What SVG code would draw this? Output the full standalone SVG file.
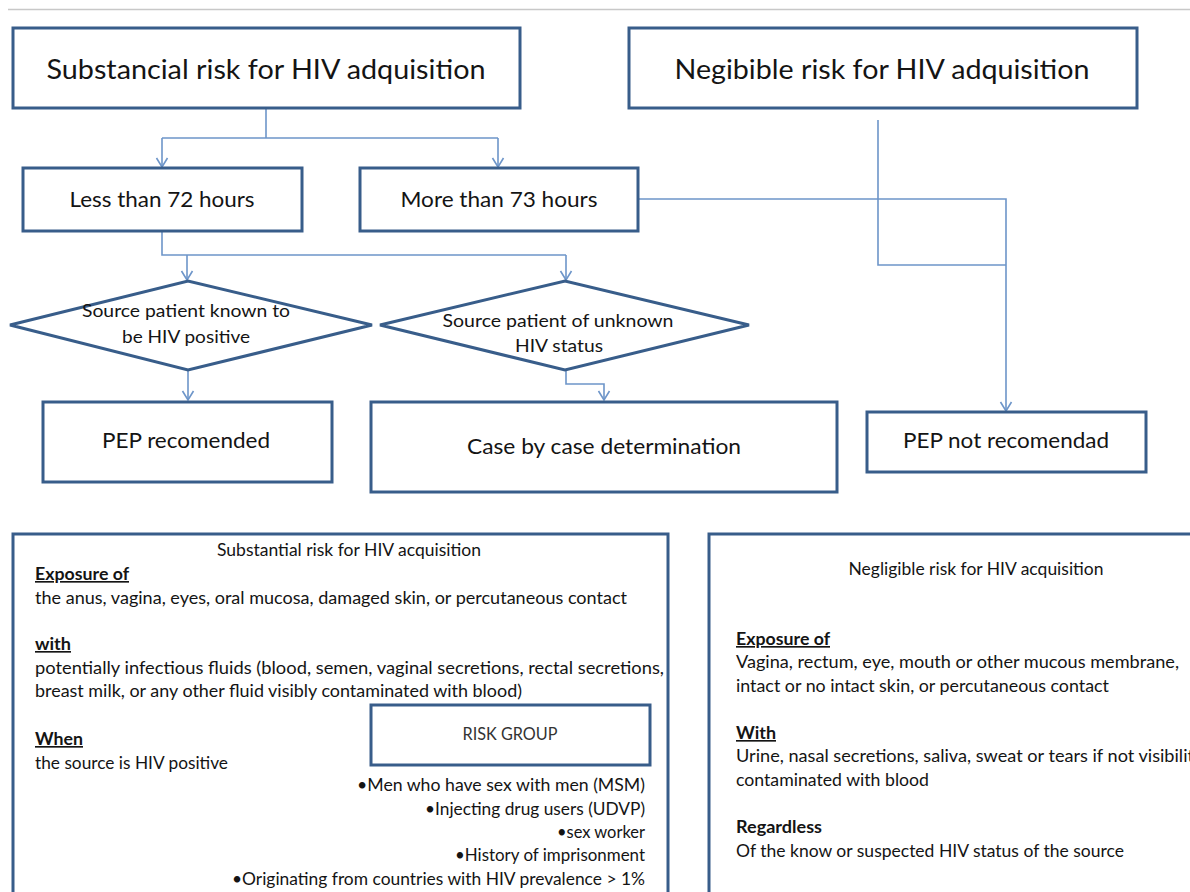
<svg xmlns="http://www.w3.org/2000/svg" width="1190" height="892" viewBox="0 0 1190 892">
<defs>
<style>
.box{fill:#fff;stroke:#385d8a;stroke-width:3}
.con{fill:none;stroke:#6d95c9;stroke-width:1.6}
text{font-family:Lato,"Liberation Sans",sans-serif;fill:#141414}
.t1{font-size:26px;text-anchor:middle}
.t2{font-size:21px;text-anchor:middle}
.t3{font-size:18px;text-anchor:middle}
.s{font-size:16.5px}
.h{font-size:16.5px;font-weight:bold;text-decoration:underline}
.r{font-size:16.5px;text-anchor:end}
</style>
<marker id="arr" markerWidth="14" markerHeight="14" refX="10" refY="7" orient="auto" markerUnits="userSpaceOnUse">
<path d="M1,1.5 L10,7 L1,12.5" fill="none" stroke="#6d95c9" stroke-width="1.6"/>
</marker>
</defs>
<rect width="1190" height="892" fill="#fff"/>
<line x1="8" y1="9.5" x2="1190" y2="9.5" stroke="#c8c8c8" stroke-width="1.5"/>

<g id="connectors">
<path class="con" d="M266,108 V138"/>
<path class="con" d="M162,138 H498"/>
<path class="con" d="M162,138 V167" marker-end="url(#arr)"/>
<path class="con" d="M498,138 V167" marker-end="url(#arr)"/>
<path class="con" d="M162,231 V255 H566"/>
<path class="con" d="M187,255 V280" marker-end="url(#arr)"/>
<path class="con" d="M566,255 V280" marker-end="url(#arr)"/>
<path class="con" d="M188,370 V400" marker-end="url(#arr)"/>
<path class="con" d="M566,370 V384 H604 V400" marker-end="url(#arr)"/>
<path class="con" d="M638,199 H1006 V411" marker-end="url(#arr)"/>
<path class="con" d="M878,120 V265 H1006"/>
</g>

<g id="substancial">
<rect class="box" x="13" y="28" width="507" height="80"/>
<text class="t1" x="266" y="79" textLength="439" lengthAdjust="spacingAndGlyphs">Substancial risk for HIV adquisition</text>
</g>
<g id="negibible">
<rect class="box" x="629" y="28" width="508" height="80"/>
<text class="t1" x="882" y="79" textLength="415" lengthAdjust="spacingAndGlyphs">Negibible risk for HIV adquisition</text>
</g>
<g id="less72">
<rect class="box" x="23" y="168" width="279" height="63"/>
<text class="t2" x="162" y="207" textLength="185" lengthAdjust="spacingAndGlyphs">Less than 72 hours</text>
</g>
<g id="more73">
<rect class="box" x="360" y="168" width="278" height="63"/>
<text class="t2" x="499" y="207" textLength="197" lengthAdjust="spacingAndGlyphs">More than 73 hours</text>
</g>
<g id="known">
<polygon class="box" points="10,325 188,281 372,325 188,370"/>
<text class="t3" x="186" y="317" textLength="208" lengthAdjust="spacingAndGlyphs">Source patient known to</text>
<text class="t3" x="186" y="343" textLength="128" lengthAdjust="spacingAndGlyphs">be HIV positive</text>
</g>
<g id="unknown">
<polygon class="box" points="380,325 565,281 749,325 565,370"/>
<text class="t3" x="558" y="327" textLength="231" lengthAdjust="spacingAndGlyphs">Source patient of unknown</text>
<text class="t3" x="559" y="352" textLength="88" lengthAdjust="spacingAndGlyphs">HIV status</text>
</g>
<g id="pep-rec">
<rect class="box" x="43" y="402" width="289" height="80"/>
<text class="t2" x="186" y="448" textLength="168" lengthAdjust="spacingAndGlyphs">PEP recomended</text>
</g>
<g id="case">
<rect class="box" x="371" y="402" width="466" height="90"/>
<text class="t2" x="604" y="454" textLength="274" lengthAdjust="spacingAndGlyphs">Case by case determination</text>
</g>
<g id="pep-not">
<rect class="box" x="867" y="412" width="279" height="60"/>
<text class="t2" x="1006" y="448" textLength="206" lengthAdjust="spacingAndGlyphs">PEP not recomendad</text>
</g>

<g id="substantial-panel">
<rect class="box" x="13" y="534" width="655" height="380"/>
<text class="s" x="349" y="556" text-anchor="middle" textLength="264" lengthAdjust="spacingAndGlyphs">Substantial risk for HIV acquisition</text>
<text class="h" x="35" y="580" textLength="94" lengthAdjust="spacingAndGlyphs">Exposure of</text>
<text class="s" x="35" y="604" textLength="592" lengthAdjust="spacingAndGlyphs">the anus, vagina, eyes, oral mucosa, damaged skin, or percutaneous contact</text>
<text class="h" x="35" y="650" textLength="36" lengthAdjust="spacingAndGlyphs">with</text>
<text class="s" x="35" y="674" textLength="629" lengthAdjust="spacingAndGlyphs">potentially infectious fluids (blood, semen, vaginal secretions, rectal secretions,</text>
<text class="s" x="35" y="697" textLength="487" lengthAdjust="spacingAndGlyphs">breast milk, or any other fluid visibly contaminated with blood)</text>
<text class="h" x="35" y="745" textLength="48" lengthAdjust="spacingAndGlyphs">When</text>
<text class="s" x="35" y="769" textLength="193" lengthAdjust="spacingAndGlyphs">the source is HIV positive</text>
<g id="risk-group">
<rect class="box" x="371" y="705" width="279" height="60"/>
<text class="s" x="510" y="740" text-anchor="middle" style="fill:#333" textLength="95" lengthAdjust="spacingAndGlyphs">RISK GROUP</text>
</g>
<text class="r" x="645" y="791" textLength="288" lengthAdjust="spacingAndGlyphs">•Men who have sex with men (MSM)</text>
<text class="r" x="645" y="815" textLength="220" lengthAdjust="spacingAndGlyphs">•Injecting drug users (UDVP)</text>
<text class="r" x="645" y="838" textLength="88" lengthAdjust="spacingAndGlyphs">•sex worker</text>
<text class="r" x="645" y="861" textLength="190" lengthAdjust="spacingAndGlyphs">•History of imprisonment</text>
<text class="r" x="645" y="885" textLength="413" lengthAdjust="spacingAndGlyphs">•Originating from countries with HIV prevalence &gt; 1%</text>
</g>

<g id="negligible-panel">
<rect class="box" x="709" y="534" width="500" height="380"/>
<text class="s" x="976" y="575" text-anchor="middle" textLength="255" lengthAdjust="spacingAndGlyphs">Negligible risk for HIV acquisition</text>
<text class="h" x="736" y="645" textLength="94" lengthAdjust="spacingAndGlyphs">Exposure of</text>
<text class="s" x="736" y="668" textLength="443" lengthAdjust="spacingAndGlyphs">Vagina, rectum, eye, mouth or other mucous membrane,</text>
<text class="s" x="736" y="692" textLength="373" lengthAdjust="spacingAndGlyphs">intact or no intact skin, or percutaneous contact</text>
<text class="h" x="736" y="739" textLength="40" lengthAdjust="spacingAndGlyphs">With</text>
<text class="s" x="736" y="762" textLength="458" lengthAdjust="spacingAndGlyphs">Urine, nasal secretions, saliva, sweat or tears if not visibilit</text>
<text class="s" x="736" y="786" textLength="193" lengthAdjust="spacingAndGlyphs">contaminated with blood</text>
<text class="s" x="736" y="833" font-weight="bold" textLength="86" lengthAdjust="spacingAndGlyphs">Regardless</text>
<text class="s" x="736" y="857" textLength="388" lengthAdjust="spacingAndGlyphs">Of the know or suspected HIV status of the source</text>
</g>
</svg>
